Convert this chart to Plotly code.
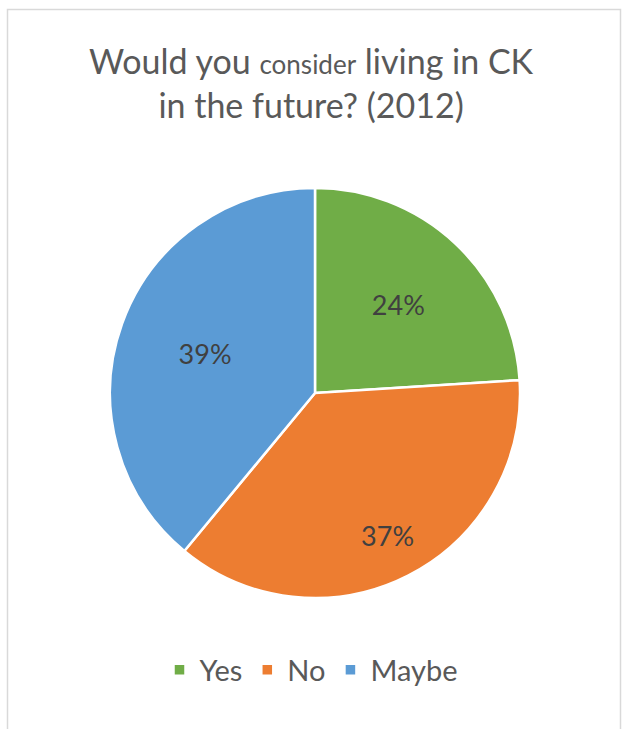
import plotly.graph_objects as go

# Survey responses (2012)
labels = ["Yes", "No", "Maybe"]
shares = [24, 37, 39]
colors = ["#70AD47", "#ED7D31", "#5B9BD5"]

W, H = 622, 729
FONT = "Lato, Open Sans, sans-serif"
pie_domain = dict(x=[110 / W, 520 / W], y=[(H - 598) / H, (H - 188) / H])

fig = go.Figure()

# Coloured slices (carry the legend)
fig.add_trace(
    go.Pie(
        labels=labels,
        values=shares,
        sort=False,
        direction="clockwise",
        rotation=0,
        marker=dict(colors=colors, line=dict(color="white", width=2.5)),
        textinfo="none",
        hoverinfo="label+percent",
        domain=pie_domain,
    )
)


def label_layer(show, hole):
    """Transparent copy of the pie that only prints the selected percentages."""
    return go.Pie(
        labels=labels,
        values=shares,
        sort=False,
        direction="clockwise",
        rotation=0,
        hole=hole,
        marker=dict(colors=["rgba(0,0,0,0)"] * len(labels), line=dict(width=0)),
        texttemplate=["%{value}%" if s else "" for s in show],
        textposition="inside",
        insidetextorientation="horizontal",
        textfont=dict(family=FONT, size=27, color="#404040"),
        hoverinfo="skip",
        showlegend=False,
        domain=pie_domain,
    )


fig.add_trace(label_layer([True, False, True], 0.14))
fig.add_trace(label_layer([False, True, False], 0.56))

fig.add_annotation(
    text="Would you <span style='font-size:26px'>consider</span> living in CK<br>in the future? (2012)",
    x=0.5, y=(H - 82) / H, xref="paper", yref="paper",
    xanchor="center", yanchor="middle", showarrow=False,
    font=dict(family=FONT, size=34, color="#595959"),
    align="center",
)

# Chart-area frame
fig.add_shape(
    type="rect", xref="paper", yref="paper",
    x0=7.5 / W, x1=620.5 / W, y0=-0.05, y1=(H - 9.5) / H,
    line=dict(color="#D9D9D9", width=1.5), fillcolor="rgba(0,0,0,0)", layer="below",
)

fig.update_layout(
    width=W, height=H,
    margin=dict(l=0, r=0, t=0, b=0),
    paper_bgcolor="white",
    showlegend=True,
    legend=dict(
        orientation="h", x=0.5, xanchor="center", y=(H - 670) / H, yanchor="middle",
        font=dict(family=FONT, size=29, color="#595959"),
        itemwidth=30, traceorder="normal",
    ),
)

fig.write_html("out.html")
